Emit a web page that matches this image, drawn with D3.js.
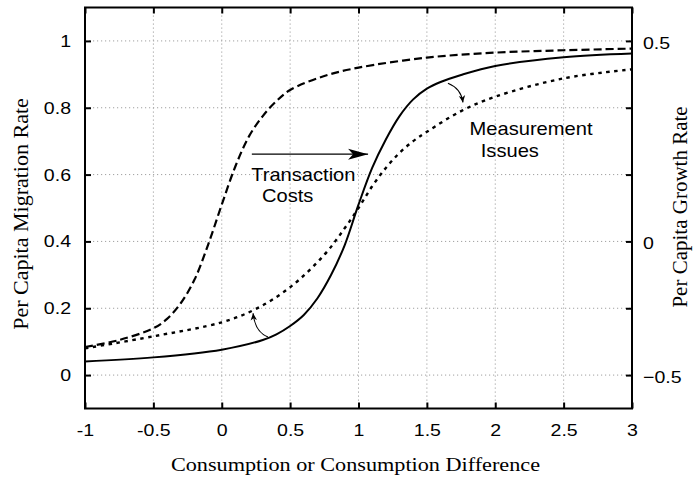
<!DOCTYPE html>
<html>
<head>
<meta charset="utf-8">
<script src="https://cdn.jsdelivr.net/npm/d3@7"></script>
<style>
  body { margin: 0; background: #fff; }
</style>
</head>
<body>
<div class="chart"></div>
<script>
// axis ticks and labels
const xTicks = [-1, -0.5, 0, 0.5, 1, 1.5, 2, 2.5, 3];
const yTicks = [0, 0.2, 0.4, 0.6, 0.8, 1];
const y2Labels = ['0.5', '0', '\u22120.5'];
const y2LabelAt = [1, 0.4, 0];   // right labels sit on these left-axis values

// curves
const solidX = [-1, -0.5, 0, 0.3, 0.4, 0.5, 0.6, 0.7, 0.8, 0.9, 1.0, 1.1, 1.2, 1.3, 1.4, 1.5, 1.6, 1.75, 2, 2.5, 3];
const solidY = [0.041, 0.053, 0.076, 0.105, 0.122, 0.147, 0.18, 0.23, 0.30, 0.39, 0.51, 0.62, 0.705, 0.775, 0.825, 0.857, 0.877, 0.898, 0.925, 0.951, 0.962];

const dashX = [-1, -0.75, -0.5, -0.4, -0.3, -0.2, -0.1, 0, 0.1, 0.2, 0.3, 0.4, 0.5, 0.75, 1, 1.5, 2, 2.5, 3];
const dashY = [0.084, 0.105, 0.14, 0.168, 0.215, 0.285, 0.39, 0.51, 0.625, 0.715, 0.775, 0.82, 0.853, 0.895, 0.92, 0.95, 0.965, 0.972, 0.977];

const dotX = [-1, -0.5, 0, 0.25, 0.5, 0.75, 0.9, 1.0, 1.1, 1.2, 1.3, 1.4, 1.5, 1.75, 2, 2.5, 3];
const dotY = [0.08, 0.116, 0.158, 0.198, 0.263, 0.36, 0.44, 0.50, 0.565, 0.62, 0.665, 0.70, 0.728, 0.79, 0.833, 0.888, 0.915];

// annotations (data units)
const costArrow = [[0.22, 0.661], [1.07, 0.661]];
const lowArrow = [[0.338, 0.114], [0.243, 0.129], [0.229, 0.185]];
const highArrow = [[1.654, 0.873], [1.749, 0.858], [1.764, 0.816]];
const notes = [
    { text: 'Transaction', x: 0.215, y: 0.582 },
    { text: 'Costs', x: 0.294, y: 0.519 },
    { text: 'Measurement', x: 1.812, y: 0.718 },
    { text: 'Issues', x: 1.894, y: 0.653 }
];

const sans = '"Liberation Sans", Arial, Helvetica, sans-serif';
const serif = '"Liberation Serif", "Times New Roman", serif';
const stretch = 'scale(1.15,1)';

const margin = { top: 7.5, right: 61, bottom: 72.5, left: 85 };
const width = 693 - margin.left - margin.right;
const height = 481 - margin.top - margin.bottom;

const xScale = d3.scaleLinear().domain([-1, 3]).range([0, width]);
const yScale = d3.scaleLinear().domain([-0.1, 1.1]).range([height, 0]);

const root = d3.select('.chart')
    .append('svg')
    .attr('width', 693)
    .attr('height', 481);

const defs = root.append('defs');
defs.append('marker')
    .attr('id', 'bigHead')
    .attr('markerUnits', 'userSpaceOnUse')
    .attr('viewBox', '-20 -6 21 12')
    .attr('markerWidth', 21).attr('markerHeight', 12)
    .attr('refX', 0).attr('refY', 0)
    .attr('orient', 'auto')
    .append('path')
    .attr('d', 'M0,0 L-20,-5.5 L-15,0 L-20,5.5 Z')
    .attr('fill', '#000');
defs.append('marker')
    .attr('id', 'smallHead')
    .attr('markerUnits', 'userSpaceOnUse')
    .attr('viewBox', '-8 -4 9 8')
    .attr('markerWidth', 9).attr('markerHeight', 8)
    .attr('refX', 0).attr('refY', 0)
    .attr('orient', 'auto')
    .append('path')
    .attr('d', 'M0,0 L-7,-3.2 L-5,0 L-7,3.2 Z')
    .attr('fill', '#000');

const svg = root.append('g')
    .attr('transform', `translate(${margin.left}, ${margin.top})`);

// grid
svg.append('g')
    .selectAll('line')
    .data(xTicks.slice(1, -1))
    .join('line')
    .attr('x1', d => xScale(d)).attr('x2', d => xScale(d))
    .attr('y1', 0).attr('y2', height)
    .attr('stroke', '#a0a0a0')
    .attr('stroke-dasharray', '1.2,2.8');

svg.append('g')
    .selectAll('line')
    .data(yTicks)
    .join('line')
    .attr('x1', 0).attr('x2', width)
    .attr('y1', d => yScale(d)).attr('y2', d => yScale(d))
    .attr('stroke', '#a0a0a0')
    .attr('stroke-dasharray', '1.2,2.8');

// curves
const series = [
    { xs: solidX, ys: solidY, dash: null, w: 2 },
    { xs: dashX, ys: dashY, dash: '8,4', w: 2.2 },
    { xs: dotX, ys: dotY, dash: '3.5,4.5', w: 2.4 }
];

const line = d3.line()
    .x(d => xScale(d[0]))
    .y(d => yScale(d[1]))
    .curve(d3.curveCatmullRom.alpha(0.5));

svg.selectAll('.curve')
    .data(series)
    .join('path')
    .attr('class', 'curve')
    .attr('d', s => line(s.xs.map((x, i) => [x, s.ys[i]])))
    .attr('fill', 'none')
    .attr('stroke', '#000')
    .attr('stroke-width', s => s.w)
    .attr('stroke-dasharray', s => s.dash);

// axes
function styleTicks(g) {
    g.select('.domain').remove();
    g.selectAll('.tick line').attr('stroke', '#000').attr('stroke-width', 2);
}

const xAxis = svg.append('g')
    .attr('transform', `translate(0, ${height})`)
    .call(d3.axisBottom(xScale).tickValues(xTicks).tickFormat(d => String(d))
        .tickSizeInner(-6).tickSizeOuter(0).tickPadding(15))
    .call(styleTicks);
xAxis.selectAll('text')
    .attr('font-family', sans).attr('font-size', 17).attr('fill', '#000')
    .attr('transform', stretch);

svg.append('g')
    .call(d3.axisTop(xScale).tickValues(xTicks).tickFormat('')
        .tickSizeInner(-6).tickSizeOuter(0))
    .call(styleTicks);

const yAxis = svg.append('g')
    .call(d3.axisLeft(yScale).tickValues(yTicks).tickFormat(d => String(d))
        .tickSizeInner(-6).tickSizeOuter(0).tickPadding(14))
    .call(styleTicks);
yAxis.selectAll('text')
    .attr('font-family', sans).attr('font-size', 17).attr('fill', '#000')
    .attr('x', 0)
    .attr('transform', `translate(-14, 0) ${stretch}`);

svg.append('g')
    .attr('transform', `translate(${width}, 0)`)
    .call(d3.axisRight(yScale).tickValues(yTicks).tickFormat('')
        .tickSizeInner(-6).tickSizeOuter(0))
    .call(styleTicks);

const y2Axis = svg.append('g')
    .attr('transform', `translate(${width}, 0)`)
    .call(d3.axisRight(yScale).tickValues(y2LabelAt).tickFormat((d, i) => y2Labels[i])
        .tickSize(0).tickPadding(11))
    .call(styleTicks);
y2Axis.selectAll('text')
    .attr('font-family', sans).attr('font-size', 17).attr('fill', '#000')
    .attr('x', 0)
    .attr('transform', `translate(11, 2) ${stretch}`);

// frame
svg.append('rect')
    .attr('width', width).attr('height', height)
    .attr('fill', 'none')
    .attr('stroke', '#000')
    .attr('stroke-width', 2);

// annotation arrows
svg.append('line')
    .attr('x1', xScale(costArrow[0][0])).attr('y1', yScale(costArrow[0][1]))
    .attr('x2', xScale(costArrow[1][0])).attr('y2', yScale(costArrow[1][1]))
    .attr('stroke', '#000').attr('stroke-width', 1.3)
    .attr('marker-end', 'url(#bigHead)');

[lowArrow, highArrow].forEach(a => {
    const p = a.map(d => [xScale(d[0]), yScale(d[1])]);
    svg.append('path')
        .attr('d', `M${p[0]} Q${p[1]} ${p[2]}`)
        .attr('fill', 'none')
        .attr('stroke', '#000').attr('stroke-width', 1.1)
        .attr('marker-end', 'url(#smallHead)');
});

svg.selectAll('.note')
    .data(notes)
    .join('text')
    .attr('class', 'note')
    .attr('transform', d => `translate(${xScale(d.x)}, ${yScale(d.y)}) ${stretch}`)
    .attr('font-family', sans)
    .attr('font-size', 17.5)
    .text(d => d.text);

// axis titles
root.append('text')
    .attr('transform', `translate(${margin.left + width / 2 - 3}, 471) scale(1.14,1)`)
    .attr('text-anchor', 'middle')
    .attr('font-family', serif)
    .attr('font-size', 19.5)
    .text('Consumption or Consumption Difference');

root.append('text')
    .attr('transform', 'translate(28, 214) rotate(-90)')
    .attr('text-anchor', 'middle')
    .attr('font-family', serif)
    .attr('font-size', 22)
    .text('Per Capita Migration Rate');

root.append('text')
    .attr('transform', 'translate(687, 207) rotate(-90)')
    .attr('text-anchor', 'middle')
    .attr('font-family', serif)
    .attr('font-size', 21)
    .text('Per Capita Growth Rate');
</script>
</body>
</html>
